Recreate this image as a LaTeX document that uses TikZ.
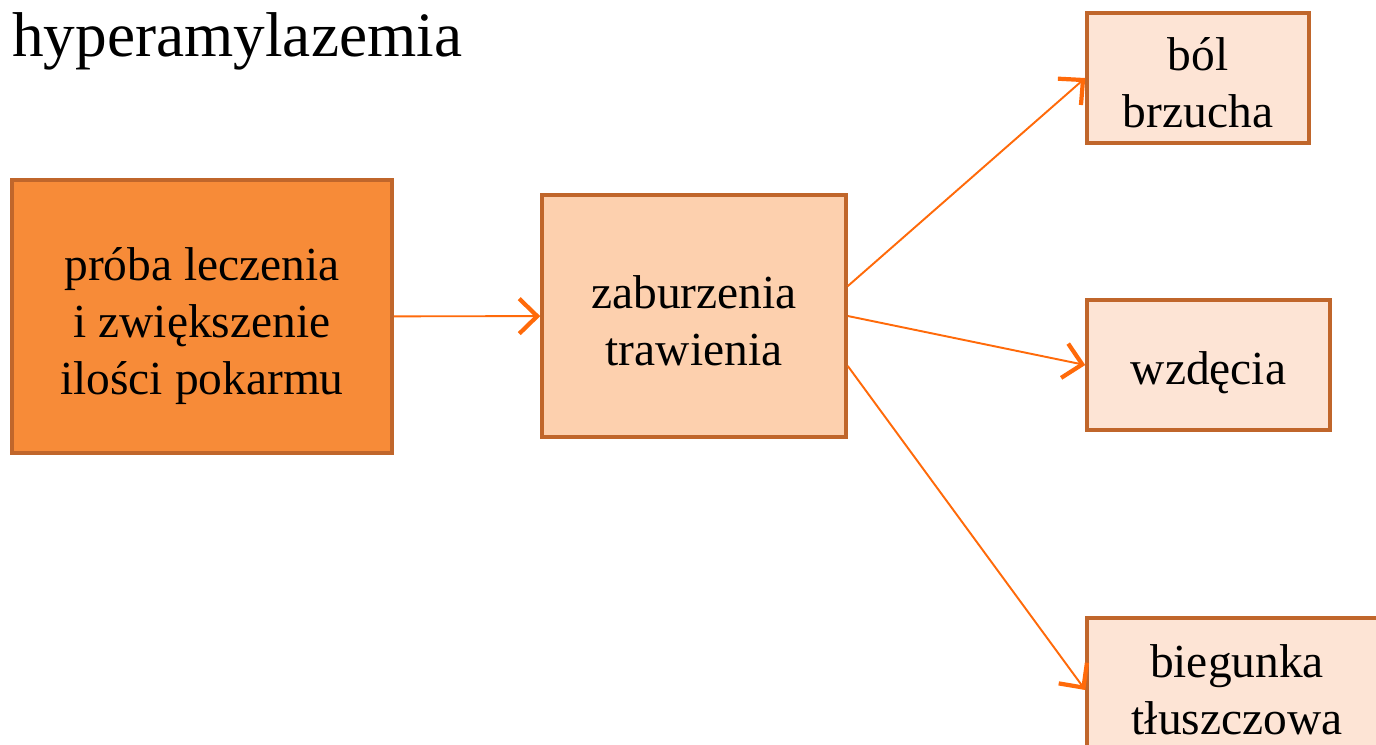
\documentclass[tikz,border=0pt]{standalone}
\usepackage{fontspec}
\setmainfont{Liberation Serif}
\usepackage{xcolor}
\usetikzlibrary{positioning,arrows.meta}
\definecolor{boxline}{HTML}{C0662B}
\definecolor{darkfill}{HTML}{F78B38}
\definecolor{midfill}{HTML}{FDD0AE}
\definecolor{lightfill}{HTML}{FDE4D5}
\definecolor{arrowc}{HTML}{FF6A0A}
\newcommand{\txtgap}[1]{\rule{0pt}{#1}}

\begin{document}
\begin{tikzpicture}[
  >={Straight Barb[length=0.36cm,width=0.7cm,line width=2.4pt]},
  box/.style={draw=boxline,line width=2pt,inner sep=0pt,align=center,
    font=\fontsize{27}{32.4}\selectfont},
  cause/.style={box,fill=darkfill},
  mid/.style={box,fill=midfill},
  sympt/.style={box,fill=lightfill},
  link/.style={->,draw=arrowc,line width=1.1pt}
]
\useasboundingbox (0,0) rectangle (27.52,14.88);
\clip (0,0) rectangle (27.52,14.88);
\node[anchor=base west,inner sep=0pt,font=\fontsize{36}{40}\selectfont] (title) at (0.24,13.76) {hyperamylazemia};
\node[cause,minimum width=7.6cm,minimum height=5.46cm] (trial) at (4.04,8.55) {\txtgap{29.5pt}próba leczenia\\ i zwiększenie\\ ilości pokarmu};
\node[mid,minimum width=6.08cm,minimum height=4.84cm] (digest) at (13.88,8.56) {\txtgap{24pt}zaburzenia\\trawienia};
\node[sympt,minimum width=4.44cm,minimum height=2.6cm] (pain) at (23.96,13.32) {\txtgap{24pt}ból\\brzucha};
\node[sympt,minimum width=4.86cm,minimum height=2.6cm] (bloat) at (24.17,7.58) {\txtgap{27.5pt}wzdęcia};
\node[sympt,minimum width=6.0cm,minimum height=2.88cm] (diarr) at (24.74,1.08) {biegunka\\tłuszczowa};
\draw[link] (trial) -- (digest);
\draw[link] (digest.11.5) -- (pain.west);
\draw[link] (digest.east) -- (bloat.west);
\draw[link] (digest.-18) -- (diarr.west);
\end{tikzpicture}
\end{document}
